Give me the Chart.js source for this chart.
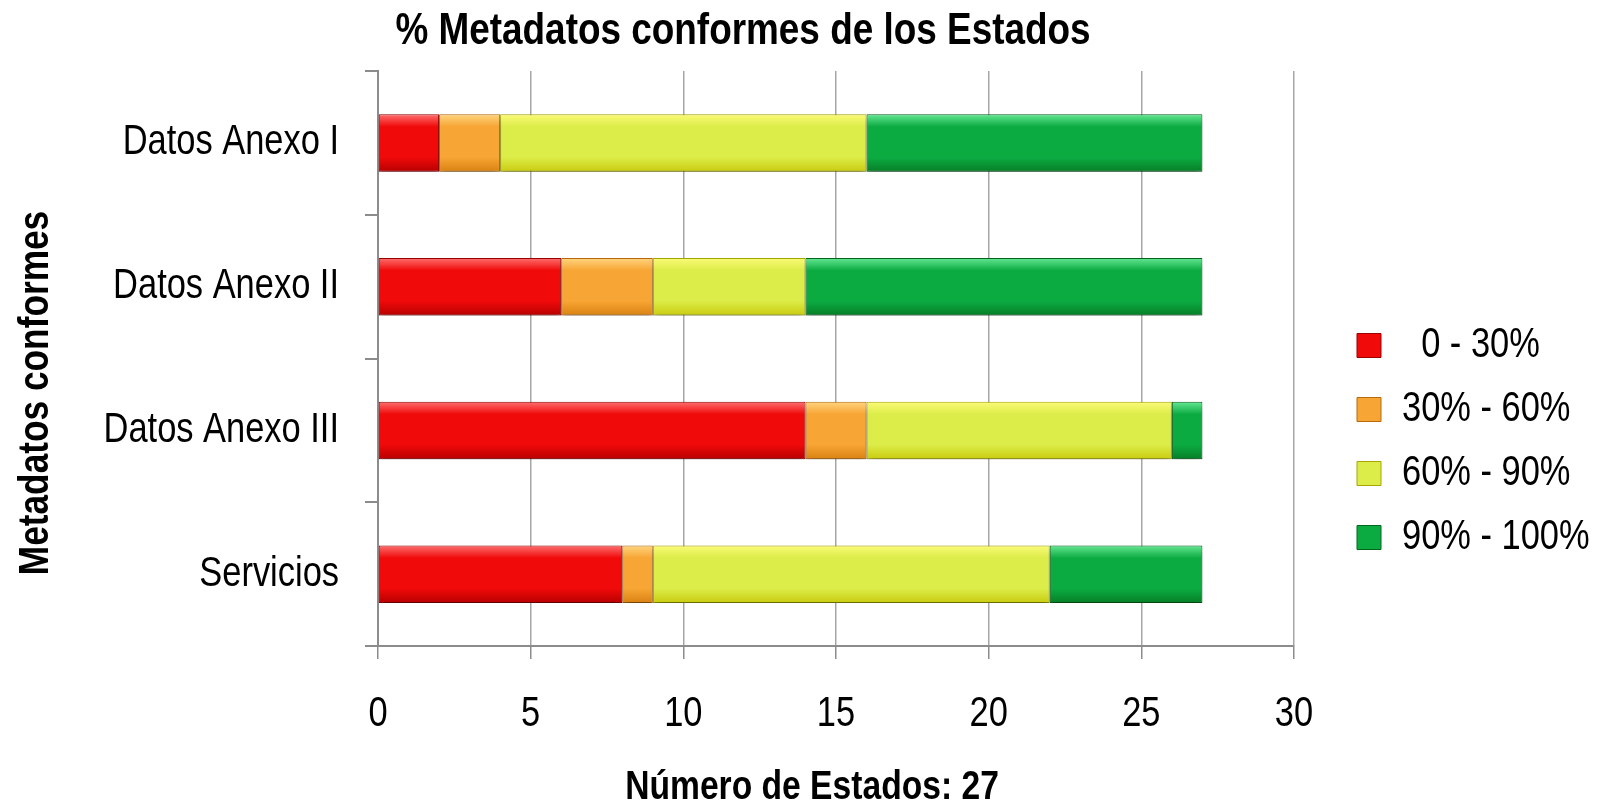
<!DOCTYPE html>
<html>
<head>
<meta charset="utf-8">
<script src="https://cdn.jsdelivr.net/npm/chart.js@4/dist/chart.umd.min.js"></script>
<style>
  html, body { margin: 0; padding: 0; background: #fff; }
  #wrap { width: 1600px; height: 812px; }
</style>
</head>
<body>
<div id="wrap"><canvas id="chart" width="1600" height="812"></canvas></div>
<script>
const categories = ['Datos Anexo I', 'Datos Anexo II', 'Datos Anexo III', 'Servicios'];
const seriesNames = ['  0 - 30%', '30% - 60%', '60% - 90%', '90% - 100%'];
const range0to30 = [2, 6, 14, 8];
const range30to60 = [2, 3, 2, 1];
const range60to90 = [12, 5, 10, 13];
const range90to100 = [11, 13, 1, 5];
const xTickStep = 5;
const xMax = 30;

const chartTitle = '% Metadatos conformes de los Estados';
const xTitle = 'Número de Estados: 27';
const yTitle = 'Metadatos conformes';

const FONT = "'Liberation Sans', Arial, sans-serif";
const NARROW = 0.82;

// light top, main, dark bottom, edge
const palette = [
    { light: '#ff7070', mid: '#f00a0a', dark: '#b80000', border: '#9a0000' },
    { light: '#ffd580', mid: '#f7a534', dark: '#d98212', border: '#b86a0c' },
    { light: '#fbfb78', mid: '#dcec48', dark: '#c9cc10', border: '#a6a800' },
    { light: '#66e894', mid: '#0cab42', dark: '#067f26', border: '#04661c' }
];

function barFill(i) {
    return function (context) {
        const p = palette[i];
        const chart = context.chart;
        if (context.type !== 'data' || !chart.chartArea) return p.mid;
        const yScale = chart.scales.y;
        const center = yScale.getPixelForValue(context.dataIndex);
        const half = yScale.height / categories.length * 0.4 / 2;
        const g = chart.ctx.createLinearGradient(0, center - half, 0, center + half);
        g.addColorStop(0, p.light);
        g.addColorStop(0.22, p.mid);
        g.addColorStop(0.75, p.mid);
        g.addColorStop(1, p.dark);
        return g;
    };
}

const seriesValues = [range0to30, range30to60, range60to90, range90to100];

const datasets = seriesValues.map((values, i) => ({
    label: seriesNames[i],
    data: values,
    backgroundColor: barFill(i),
    borderColor: palette[i].border,
    borderWidth: 1,
    borderSkipped: false,
    barPercentage: 0.4,
    categoryPercentage: 1
}));

// soft shadow under the bars
const shadowPlugin = {
    id: 'barShadow',
    beforeDatasetsDraw(chart) {
        const c = chart.ctx;
        c.save();
        c.shadowColor = 'rgba(0,0,0,0.4)';
        c.shadowBlur = 7;
        c.shadowOffsetX = 0;
        c.shadowOffsetY = 5;
    },
    afterDatasetsDraw(chart) {
        chart.ctx.restore();
    }
};

// legend sits a bit further from the plot than Chart.js puts it
const legendShift = {
    id: 'legendShift',
    afterLayout(chart) {
        chart.legend.left += 41;
        chart.legend.right += 41;
    }
};

const titlePlugin = {
    id: 'titles',
    afterDraw(chart) {
        const c = chart.ctx;
        c.save();
        c.fillStyle = '#000';
        c.textAlign = 'center';
        c.textBaseline = 'middle';
        c.font = 'bold 45px ' + FONT;
        c.fillText(chartTitle, 743, 32);
        c.font = 'bold 41px ' + FONT;
        c.fillText(xTitle, 812, 788);
        c.translate(36, 393);
        c.rotate(-Math.PI / 2);
        c.font = 'bold 43px ' + FONT;
        c.fillText(yTitle, 0, 0);
        c.restore();
    }
};

// no Arial Narrow here: squeeze Liberation Sans horizontally instead
const canvas = document.getElementById('chart');
const ctx = canvas.getContext('2d');
const origFill = ctx.fillText.bind(ctx);
const origMeasure = ctx.measureText.bind(ctx);
ctx.fillText = (t, x, y) => origFill(t, x, y, Math.max(1, origMeasure(t).width * NARROW));
ctx.measureText = (t) => {
    const m = origMeasure(t);
    return {
        width: m.width * NARROW,
        actualBoundingBoxAscent: m.actualBoundingBoxAscent,
        actualBoundingBoxDescent: m.actualBoundingBoxDescent,
        actualBoundingBoxLeft: m.actualBoundingBoxLeft * NARROW,
        actualBoundingBoxRight: m.actualBoundingBoxRight * NARROW
    };
};

Chart.defaults.font.family = FONT;
Chart.defaults.color = '#000';

new Chart(canvas, {
    type: 'bar',
    data: { labels: categories, datasets: datasets },
    options: {
        indexAxis: 'y',
        responsive: false,
        animation: false,
        devicePixelRatio: 1,
        layout: { padding: { top: 71, right: 0, bottom: 0, left: 0 } },
        plugins: {
            title: { display: false },
            tooltip: { enabled: false },
            legend: {
                position: 'right',
                labels: {
                    boxWidth: 24,
                    boxHeight: 24,
                    padding: 22,
                    color: '#000',
                    font: { size: 42 },
                    generateLabels(chart) {
                        return chart.data.datasets.map((ds, i) => ({
                            text: ds.label,
                            fillStyle: palette[i].mid,
                            strokeStyle: palette[i].border,
                            lineWidth: 1,
                            hidden: false,
                            datasetIndex: i,
                            fontColor: '#000'
                        }));
                    }
                }
            }
        },
        scales: {
            x: {
                stacked: true,
                min: 0,
                max: xMax,
                ticks: { stepSize: xTickStep, padding: 30, color: '#000', font: { size: 42 } },
                grid: { color: '#a6a6a6', lineWidth: 1.5, tickLength: 13, tickColor: '#8c8c8c' },
                border: { color: '#8c8c8c', width: 2 },
                afterFit(s) { s.height = 166; s.paddingRight = 306; }
            },
            y: {
                stacked: true,
                ticks: { padding: 26, color: '#000', font: { size: 42 } },
                grid: { offset: true, drawOnChartArea: false, tickLength: 13, color: '#8c8c8c', lineWidth: 2 },
                border: { color: '#8c8c8c', width: 2 },
                afterFit(s) { s.width = 378; s.paddingTop = 0; s.paddingBottom = 0; }
            }
        }
    },
    plugins: [shadowPlugin, legendShift, titlePlugin]
});
</script>
</body>
</html>
